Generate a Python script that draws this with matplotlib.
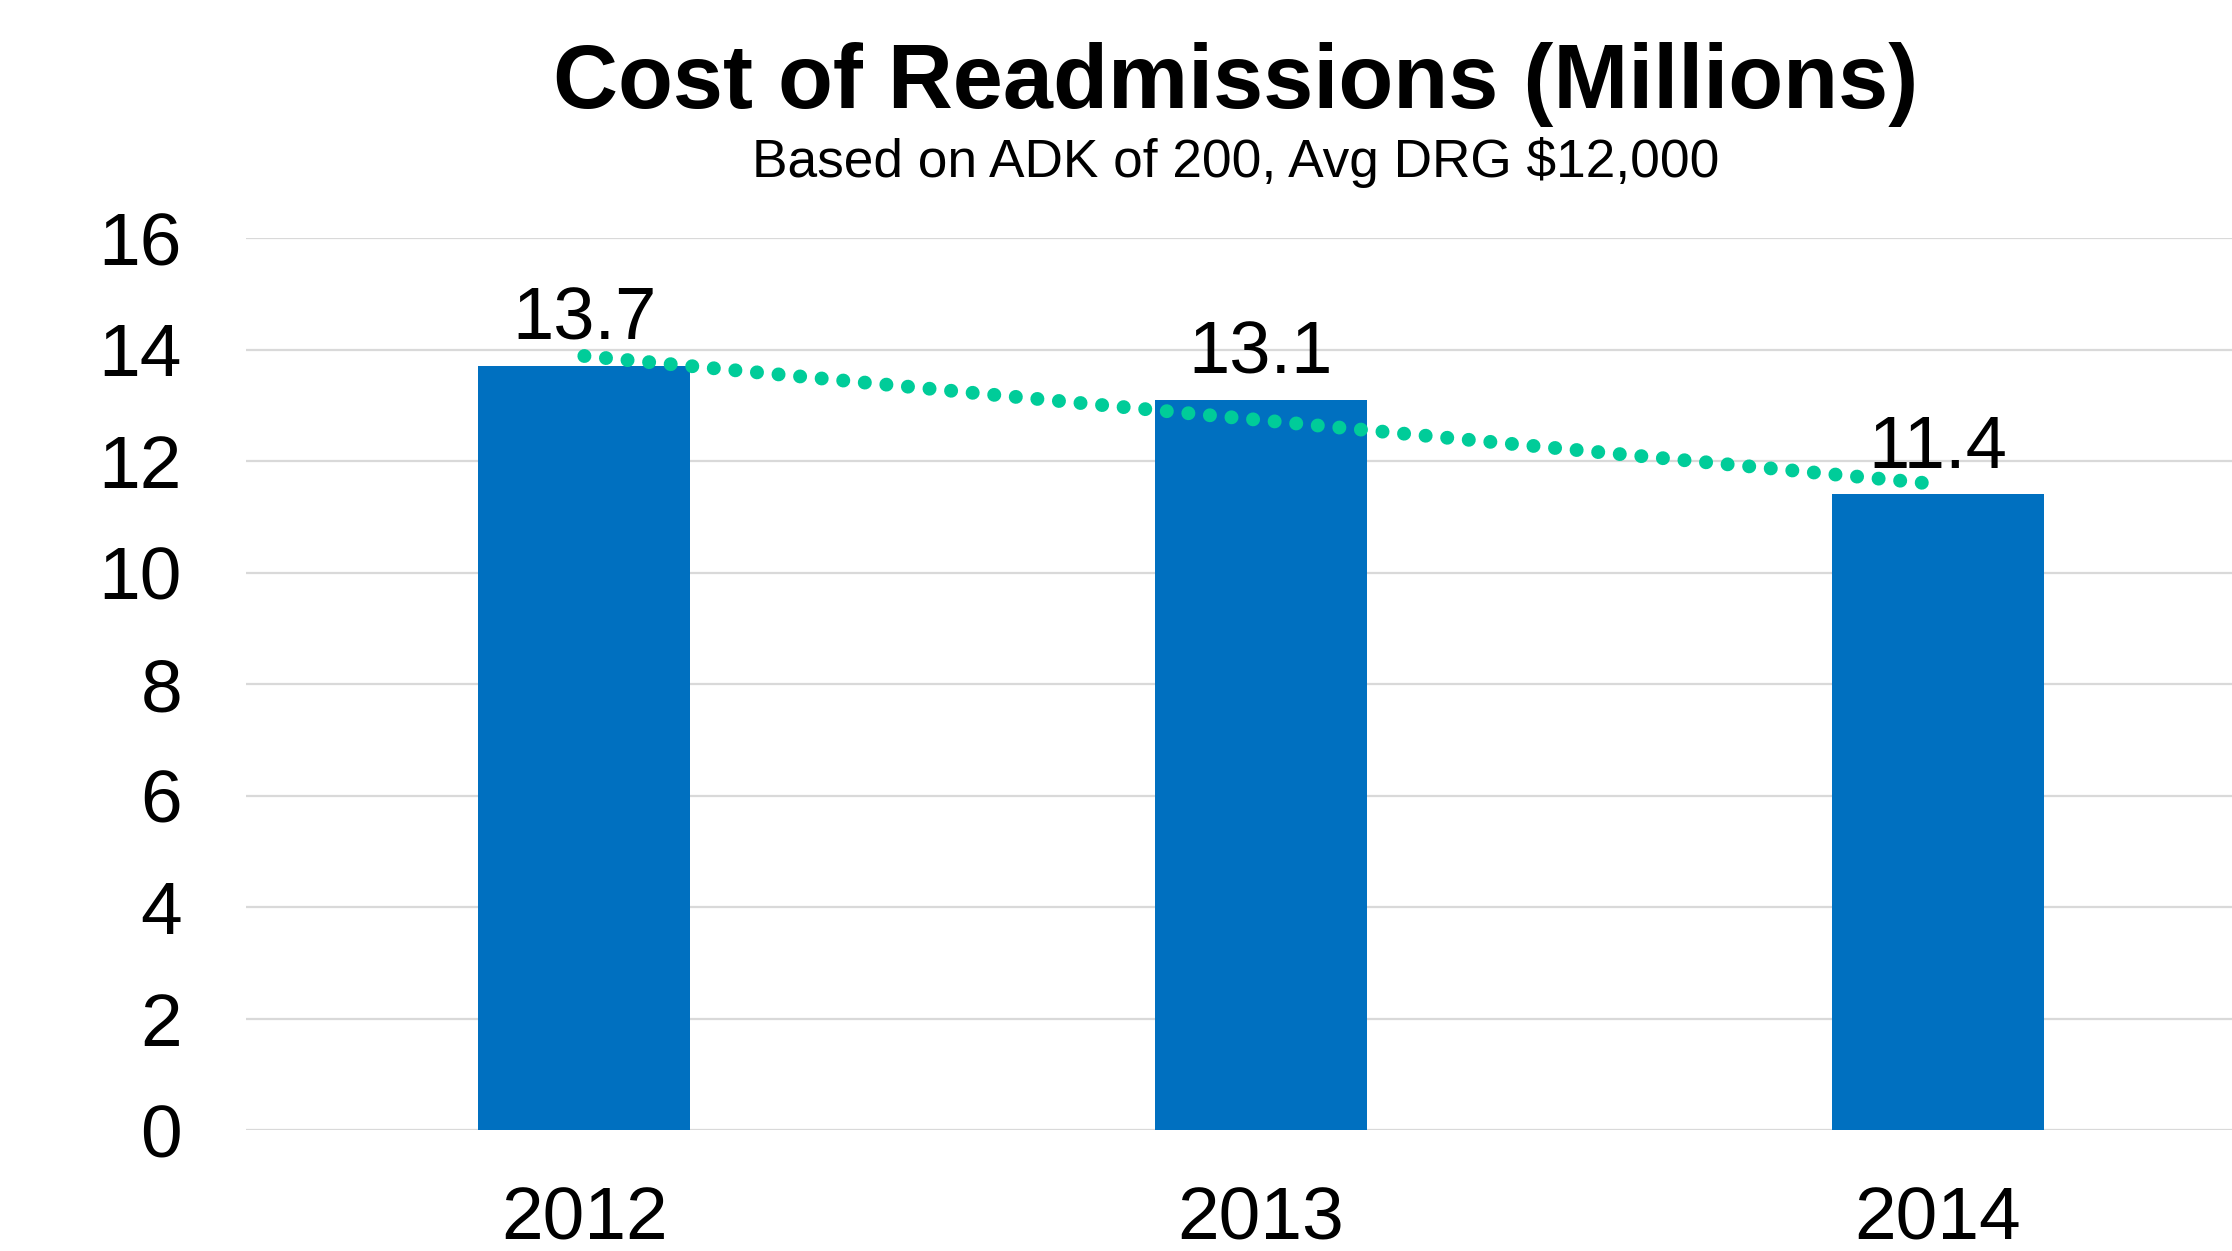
import matplotlib
matplotlib.use("Agg")
import matplotlib.pyplot as plt
import numpy as np

years = ["2012", "2013", "2014"]
costs = [13.7, 13.1, 11.4]
yticks = [0, 2, 4, 6, 8, 10, 12, 14, 16]
title = "Cost of Readmissions (Millions)"
subtitle = "Based on ADK of 200, Avg DRG $12,000"

plt.rcParams["font.family"] = ["Liberation Sans", "DejaVu Sans"]

W, H = 2232, 1251
fig = plt.figure(figsize=(W / 100, H / 100), dpi=100)
fig.patch.set_facecolor("white")

ax = fig.add_axes([246 / W, 121 / H, (2276 - 246) / W, (1130 - 238) / H])
x = np.arange(len(years))
ax.bar(x, costs, width=0.313, color="#0070C0", zorder=2)

# linear trendline (Excel-style) fitted to the data
coef = np.polyfit(x, costs, 1)
trend = np.polyval(coef, x)
ax.plot(x, trend, color="#00CC99", linewidth=10, linestyle=(0, (0.01, 1.55)),
        dash_capstyle="round", zorder=3)

for xi, v in zip(x, costs):
    ax.annotate(f"{v}", (xi, v), xytext=(0, 19), textcoords="offset points",
                ha="center", va="baseline", fontsize=53.5, color="black", zorder=4)

ax.set_xlim(-0.5, len(years) - 0.5)
ax.set_ylim(0, 16)
ax.set_yticks(yticks)
ax.set_yticklabels([str(t) for t in yticks])
ax.set_xticks(x)
ax.set_xticklabels(years)
ax.tick_params(axis="y", length=0, pad=46, labelsize=54)
ax.tick_params(axis="x", length=0, pad=40, labelsize=54)
ax.grid(axis="y", color="#D9D9D9", linewidth=1.6, zorder=0)
ax.set_axisbelow(True)
for s in ax.spines.values():
    s.set_visible(False)

fig.text(1236 / W, (H - 108) / H, title, ha="center", va="baseline",
         fontsize=64.8, fontweight="bold")
fig.text(1236 / W, (H - 177) / H, subtitle, ha="center", va="baseline",
         fontsize=38.3)

fig.savefig("out.png", dpi=100, facecolor="white")
